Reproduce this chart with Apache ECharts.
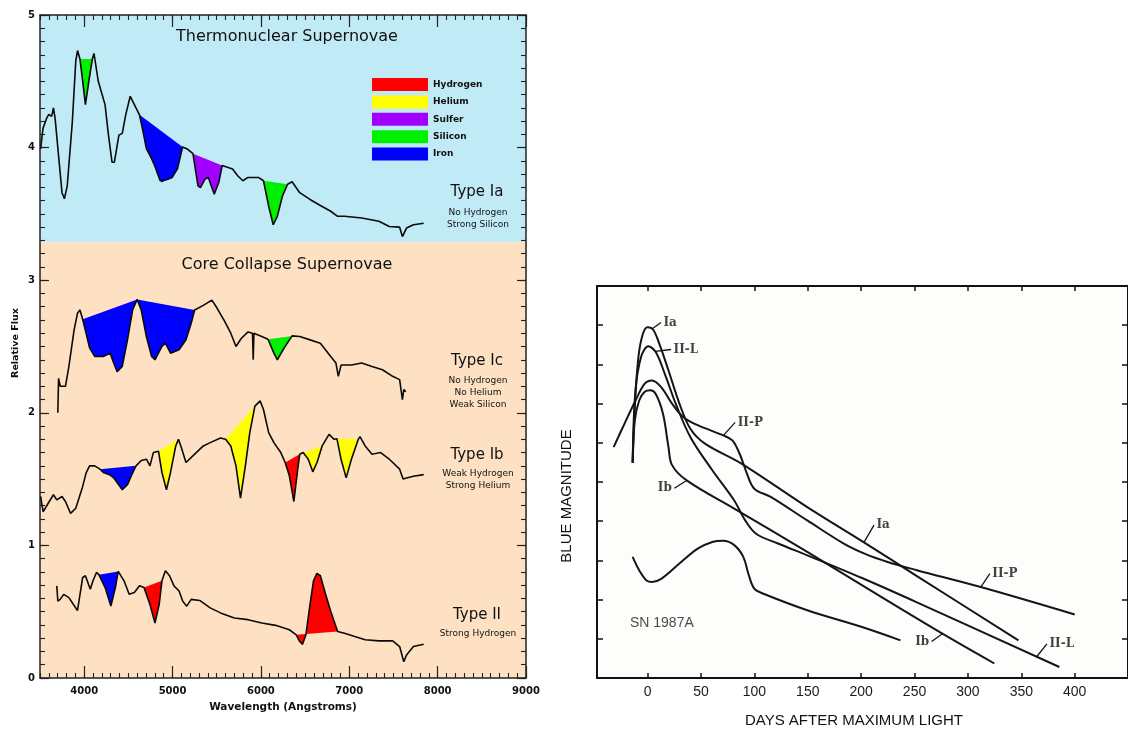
<!DOCTYPE html>
<html>
<head>
<meta charset="utf-8">
<script src="https://cdn.jsdelivr.net/npm/echarts@6/dist/echarts.min.js"></script>
<style>html,body{margin:0;padding:0;background:#fff}#c{width:1128px;height:730px}</style>
</head>
<body>
<div id="c"></div>
<script>
// ---------------- Left panel: spectra (wavelength in Angstroms, relative flux) ----------------
const wavelengthLabels = [4000, 5000, 6000, 7000, 8000, 9000];
const fluxLabels = [0, 1, 2, 3, 4, 5];
const elementNames = ['Hydrogen', 'Helium', 'Sulfer', 'Silicon', 'Iron'];
const elementColors = ['#ff0000', '#ffff00', '#a000ff', '#00f000', '#0000ff'];
const regionBoundary = 3.29; // thermonuclear / core-collapse divide (flux units)

const spectrumIa = [
[3507,3.99],[3534,4.145],[3574,4.22],[3600,4.25],[3632,4.235],[3652,4.30],[3671,4.22],[3710,3.94],[3749,3.66],[3776,3.614],[3808,3.71],[3866,4.196],[3905,4.655],[3925,4.732],[3952,4.668],[3983,4.502],[4014,4.324],[4053,4.502],[4092,4.668],[4111,4.71],[4159,4.502],[4197,4.413],[4236,4.324],[4275,4.094],[4315,3.89],[4342,3.89],[4393,4.094],[4431,4.107],[4470,4.247],[4521,4.387],[4568,4.324],[4626,4.247],[4666,4.12],[4704,3.992],[4763,3.916],[4800,3.86],[4860,3.75],[4880,3.737],[4940,3.76],[4996,3.775],[5055,3.839],[5114,4.005],[5172,3.987],[5231,3.954],[5288,3.711],[5316,3.699],[5367,3.762],[5405,3.775],[5472,3.648],[5523,3.737],[5562,3.865],[5621,3.852],[5679,3.839],[5737,3.788],[5796,3.75],[5854,3.775],[5971,3.775],[6029,3.75],[6088,3.558],[6139,3.418],[6186,3.482],[6244,3.635],[6302,3.724],[6353,3.742],[6439,3.66],[6556,3.609],[6673,3.563],[6790,3.52],[6868,3.482],[6946,3.482],[7141,3.469],[7335,3.444],[7453,3.405],[7570,3.40],[7601,3.329],[7648,3.393],[7726,3.418],[7842,3.43]
];
const spectrumIc = [
[3702,2.00],[3710,2.26],[3729,2.20],[3788,2.20],[3827,2.35],[3886,2.625],[3924,2.75],[3952,2.775],[3983,2.705],[4022,2.60],[4061,2.49],[4119,2.425],[4217,2.425],[4294,2.45],[4334,2.375],[4373,2.31],[4431,2.35],[4490,2.55],[4548,2.775],[4599,2.855],[4646,2.775],[4704,2.575],[4763,2.425],[4801,2.40],[4880,2.50],[4919,2.525],[4977,2.45],[5074,2.475],[5152,2.55],[5211,2.675],[5250,2.775],[5348,2.81],[5445,2.85],[5503,2.79],[5581,2.70],[5659,2.60],[5718,2.50],[5777,2.56],[5854,2.61],[5905,2.60],[5913,2.40],[5921,2.60],[6010,2.575],[6080,2.555],[6147,2.45],[6186,2.40],[6264,2.49],[6353,2.58],[6439,2.575],[6556,2.55],[6673,2.525],[6790,2.425],[6849,2.375],[6876,2.275],[6907,2.36],[7024,2.36],[7141,2.375],[7257,2.35],[7375,2.325],[7491,2.275],[7570,2.25],[7601,2.10],[7617,2.175],[7640,2.16]
];
const spectrumIb = [
[3507,1.369],[3535,1.254],[3593,1.318],[3652,1.382],[3690,1.343],[3749,1.369],[3788,1.331],[3846,1.242],[3905,1.28],[3983,1.445],[4022,1.547],[4041,1.55],[4061,1.60],[4119,1.60],[4178,1.575],[4217,1.55],[4294,1.53],[4334,1.51],[4431,1.42],[4490,1.458],[4548,1.547],[4587,1.60],[4646,1.64],[4704,1.65],[4744,1.60],[4783,1.70],[4841,1.71],[4880,1.55],[4931,1.42],[4977,1.55],[5036,1.75],[5067,1.80],[5094,1.75],[5152,1.625],[5230,1.675],[5348,1.75],[5426,1.775],[5543,1.81],[5600,1.80],[5659,1.75],[5718,1.60],[5769,1.356],[5824,1.60],[5874,1.85],[5932,2.05],[5991,2.09],[6029,2.025],[6088,1.85],[6147,1.775],[6225,1.70],[6275,1.625],[6322,1.525],[6373,1.331],[6412,1.55],[6439,1.6875],[6478,1.70],[6536,1.65],[6587,1.555],[6635,1.625],[6693,1.75],[6771,1.8375],[6829,1.80],[6860,1.805],[6907,1.65],[6965,1.509],[7024,1.65],[7102,1.80],[7121,1.82],[7180,1.75],[7257,1.6875],[7355,1.70],[7453,1.65],[7570,1.575],[7609,1.50],[7648,1.509],[7726,1.522],[7842,1.534]
];
const spectrumII = [
[3690,0.695],[3702,0.58],[3729,0.593],[3768,0.631],[3827,0.606],[3924,0.509],[3983,0.758],[4014,0.771],[4069,0.669],[4100,0.733],[4139,0.796],[4166,0.779],[4237,0.682],[4302,0.542],[4353,0.682],[4385,0.804],[4404,0.814],[4451,0.733],[4509,0.631],[4568,0.644],[4626,0.695],[4677,0.682],[4744,0.555],[4801,0.415],[4849,0.555],[4880,0.733],[4919,0.809],[4966,0.771],[5016,0.695],[5074,0.656],[5114,0.58],[5160,0.542],[5211,0.593],[5308,0.585],[5426,0.529],[5543,0.491],[5699,0.453],[5854,0.44],[6010,0.415],[6166,0.397],[6322,0.364],[6400,0.326],[6439,0.275],[6471,0.254],[6509,0.326],[6556,0.555],[6595,0.733],[6634,0.789],[6673,0.771],[6732,0.631],[6790,0.504],[6868,0.351],[6946,0.338],[7062,0.313],[7180,0.288],[7335,0.28],[7491,0.28],[7570,0.237],[7617,0.122],[7648,0.173],[7726,0.237],[7842,0.254]
];
// absorption / emission regions: [spectrum, element, from wavelength, to wavelength]
const fillsIa = [['Ia','Silicon',3952,4092],['Ia','Iron',4626,5114],['Ia','Sulfer',5231,5562],['Ia','Silicon',6029,6302]];
const fillsIc = [['Ic','Iron',3983,4599],['Ic','Iron',4599,5250],['Ic','Silicon',6080,6353]];
const fillsIb = [['Ib','Iron',4178,4587],['Ib','Helium',4841,5067],['Ib','Helium',5600,5932],['Ib','Hydrogen',6275,6439],['Ib','Helium',6439,6693],['Ib','Helium',6860,7102]];
const fillsII = [['II','Iron',4166,4385],['II','Hydrogen',4677,4880],['II','Hydrogen',6400,6868]];

// ---------------- Right panel: light curves (days after max, blue magnitude) ----------------
const dayLabels = [0, 50, 100, 150, 200, 250, 300, 350, 400];
const curveIa = [[-14,-15.49],[-12,-16.91],[-8.6,-18.19],[-4.4,-18.78],[0,-18.95],[5.1,-18.89],[10.9,-18.53],[19.5,-17.85],[29.8,-17.0],[40,-16.36],[53.7,-15.98],[87.9,-15.47],[149.5,-14.36],[202.6,-13.46],[252.2,-12.6],[347.3,-10.96]];
const curveIIL = [[-14,-15.49],[-11.5,-17.3],[-6,-18.2],[0.7,-18.46],[7.5,-18.32],[16.1,-17.76],[26.3,-17.0],[40,-16.15],[60.6,-15.3],[81.1,-14.53],[91.4,-14.02],[101.6,-13.68],[122.1,-13.43],[149.5,-13.13],[200.8,-12.55],[252.2,-11.93],[385.6,-10.28]];
const curveIIP = [[-31.8,-15.89],[-21.6,-16.49],[-11.3,-17.08],[-2.7,-17.51],[4.1,-17.59],[12.7,-17.42],[22.9,-17.0],[33.2,-16.66],[46.9,-16.45],[70.8,-16.19],[79.4,-16.06],[86.2,-15.72],[93.1,-15.21],[99.9,-14.83],[115.3,-14.62],[149.5,-14.02],[183.7,-13.43],[204.3,-13.16],[224.8,-12.96],[252.2,-12.75],[312,-12.32],[400,-11.62]];
const curveIb = [[-14,-15.49],[-12,-16.57],[-7.9,-17.08],[-2.7,-17.3],[2.4,-17.34],[7.5,-17.25],[14.4,-16.74],[19.5,-15.9],[22.9,-15.43],[36.6,-15.04],[81.1,-14.32],[149.5,-13.22],[218,-12.08],[276.1,-11.13],[324.7,-10.37]];
const curve87A = [[-14,-13.09],[-7.9,-12.75],[-1,-12.49],[4.1,-12.45],[12.7,-12.53],[29.8,-12.92],[46.9,-13.3],[60.6,-13.47],[70.8,-13.5],[81.1,-13.39],[89.6,-13.09],[94.8,-12.62],[99.9,-12.28],[108.5,-12.15],[149.5,-11.73],[200.8,-11.3],[236.8,-10.96]];
// curve labels: [text, leader start day, start mag, leader end day, end mag, side]
const curveLabels = [
  ['Ia', 5, -18.92, 12.5, -19.07, 'right'],
  ['II-L', 7.5, -18.33, 22, -18.38, 'right'],
  ['II-P', 71, -16.19, 82, -16.52, 'right'],
  ['Ib', 36.6, -15.04, 25, -14.84, 'left'],
  ['Ia', 202.6, -13.46, 212, -13.9, 'right'],
  ['II-P', 312, -12.32, 320.5, -12.66, 'right'],
  ['II-L', 364, -10.53, 374, -10.87, 'right'],
  ['Ib', 276.1, -11.13, 266, -10.93, 'left']
];
const sn1987ALabel = ['SN 1987A', -17, -11.39];

const spectra = { Ia: spectrumIa, Ic: spectrumIc, Ib: spectrumIb, II: spectrumII };
const allFills = [].concat(fillsIa, fillsIc, fillsIb, fillsII);

function fillSeries(name, color) {
  const regions = allFills.filter(r => r[1] === name);
  return {
    type: 'custom', name: name, xAxisIndex: 0, yAxisIndex: 0, z: 2,
    itemStyle: { color: color }, silent: true,
    data: regions.map(r => [r[2], 1]),
    renderItem: function (params, api) {
      const r = regions[params.dataIndex];
      const pts = spectra[r[0]].filter(p => p[0] >= r[2] && p[0] <= r[3]).map(p => api.coord(p));
      return { type: 'polygon', shape: { points: pts }, style: { fill: color, stroke: null } };
    }
  };
}
function specSeries(data) {
  return { type: 'line', xAxisIndex: 0, yAxisIndex: 0, data: data, showSymbol: false, z: 3, silent: true,
    lineStyle: { color: '#0a0a0a', width: 1.6 } };
}
function curveSeries(data) {
  return { type: 'line', xAxisIndex: 4, yAxisIndex: 4, data: data, showSymbol: false, smooth: 0.35, z: 3, silent: true,
    lineStyle: { color: '#151515', width: 2 } };
}
const plain = v => String(v);

const tickColor = '#222';
const leftFont = 'DejaVu Sans';
function leftX(pos, long, labels) {
  const ax = { gridIndex: 0, type: 'value', min: 3500, max: 9000, position: pos,
    splitLine: { show: false }, axisLine: { show: !long, onZero: false, lineStyle: { color: tickColor, width: 1.5 } } };
  if (long) {
    ax.axisTick = { show: true, inside: true, length: 12, customValues: wavelengthLabels, lineStyle: { color: tickColor, width: 1.2 } };
    ax.axisLabel = { show: false };
  } else {
    ax.interval = 100;
    ax.axisTick = { show: true, inside: true, length: 5, lineStyle: { color: tickColor, width: 1.1 } };
    ax.axisLabel = labels ? { show: true, customValues: wavelengthLabels, formatter: plain, margin: 8, color: '#111', fontSize: 10, fontWeight: 'bold', fontFamily: leftFont } : { show: false };
  }
  return ax;
}
function leftY(pos, long, labels) {
  const ax = { gridIndex: 0, type: 'value', min: 0, max: 5, position: pos,
    splitLine: { show: false }, axisLine: { show: !long, onZero: false, lineStyle: { color: tickColor, width: 1.5 } } };
  if (long) {
    ax.interval = 1;
    ax.axisTick = { show: true, inside: true, length: 9, lineStyle: { color: tickColor, width: 1.2 } };
    ax.axisLabel = { show: false };
  } else {
    ax.interval = 0.1;
    ax.axisTick = { show: true, inside: true, length: 5, lineStyle: { color: tickColor, width: 1.1 } };
    ax.axisLabel = labels ? { show: true, customValues: fluxLabels, formatter: plain, margin: 5, color: '#111', fontSize: 10, fontWeight: 'bold', fontFamily: leftFont } : { show: false };
  }
  return ax;
}
function rightX(pos, labels) {
  return { gridIndex: 1, type: 'value', min: -47.4, max: 449.9, position: pos,
    splitLine: { show: false }, axisLine: { show: true, onZero: false, lineStyle: { color: '#111', width: 2 } },
    axisTick: { show: true, inside: true, length: 5, customValues: dayLabels, lineStyle: { color: '#111', width: 1.5 } },
    axisLabel: labels ? { show: true, customValues: dayLabels, formatter: plain, margin: 7, color: '#1a1a1a', fontSize: 14, fontFamily: 'Liberation Sans' } : { show: false } };
}
function rightY(pos) {
  return { gridIndex: 1, type: 'value', inverse: true, min: -20, max: -10, interval: 1, position: pos,
    splitLine: { show: false }, axisLine: { show: true, onZero: false, lineStyle: { color: '#111', width: 2 } },
    axisTick: { show: true, inside: true, length: 6, lineStyle: { color: '#111', width: 1.5 } },
    axisLabel: { show: false } };
}

const chart = echarts.init(document.getElementById('c'), null, { renderer: 'canvas' });
const series = [
  { type: 'line', xAxisIndex: 0, yAxisIndex: 0, data: [[3500, 0]], showSymbol: false, z: 0, silent: true,
    lineStyle: { opacity: 0 },
    markArea: { silent: true, z: 0, data: [
      [{ yAxis: 0, itemStyle: { color: '#fde1c2' } }, { yAxis: regionBoundary }],
      [{ yAxis: regionBoundary, itemStyle: { color: '#c1eaf7' } }, { yAxis: 5 }]
    ] } }
];
elementNames.forEach((n, i) => series.push(fillSeries(n, elementColors[i])));
series.push(specSeries(spectrumIa), specSeries(spectrumIc), specSeries(spectrumIb), specSeries(spectrumII));
[curveIa, curveIIL, curveIIP, curveIb, curve87A].forEach(c => series.push(curveSeries(c)));
series.push({ type: 'line', xAxisIndex: 4, yAxisIndex: 4, data: [[0, -15]], showSymbol: false, silent: true,
  lineStyle: { opacity: 0 },
  markLine: { silent: true, symbol: ['none', 'none'], label: { show: false },
    lineStyle: { color: '#151515', width: 1.3, type: 'solid' },
    data: curveLabels.map(l => [{ coord: [l[1], l[2]] }, { coord: [l[3], l[4]] }]) } });
series.push({ type: 'scatter', xAxisIndex: 4, yAxisIndex: 4, symbolSize: 1, silent: true,
  itemStyle: { color: 'rgba(0,0,0,0)' },
  data: curveLabels.map(l => ({ value: [l[3], l[4]], name: l[0], label: { position: l[5] } })),
  label: { show: true, distance: 2, formatter: p => p.name, color: '#111', fontSize: 12, fontWeight: 'bold', fontFamily: 'DejaVu Serif' } });
series.push({ type: 'scatter', xAxisIndex: 4, yAxisIndex: 4, symbolSize: 1, silent: true,
  itemStyle: { color: 'rgba(0,0,0,0)' },
  data: [{ value: [sn1987ALabel[1], sn1987ALabel[2]], name: sn1987ALabel[0] }],
  label: { show: true, position: 'right', distance: 0, formatter: p => p.name, color: '#1a1a1a', fontSize: 14, fontFamily: 'Liberation Sans' } });

function txt(text, x, y, size, weight, family, rot) {
  return { type: 'text', x: x, y: y, rotation: rot || 0, silent: true, z: 10,
    style: { text: text, fill: '#111', font: (weight || 'normal') + ' ' + size + 'px "' + (family || leftFont) + '"',
      textAlign: 'center', textVerticalAlign: 'middle', align: 'center', verticalAlign: 'middle' } };
}

chart.setOption({
  backgroundColor: '#ffffff',
  animation: false,
  grid: [
    { left: 40, top: 15, width: 486, height: 663, show: false },
    { left: 597, top: 286, width: 535, height: 392, show: true, backgroundColor: '#fdfdfb', borderWidth: 0 }
  ],
  xAxis: [leftX('bottom', false, true), leftX('bottom', true), leftX('top', false, false), leftX('top', true),
          rightX('bottom', true), rightX('top', false)],
  yAxis: [leftY('left', false, true), leftY('left', true), leftY('right', false, false), leftY('right', true),
          rightY('left'), rightY('right')],
  legend: { data: elementNames, orient: 'vertical', left: 367, top: 73, itemWidth: 56, itemHeight: 13, itemGap: 4.4,
    icon: 'rect', selectedMode: false, itemStyle: { borderWidth: 0 },
    textStyle: { fontSize: 9, fontWeight: 'bold', color: '#111', fontFamily: leftFont, padding: [0, 0, 0, 0] } },
  graphic: [
    txt('Thermonuclear Supernovae', 287, 37, 16),
    txt('Core Collapse Supernovae', 287, 265, 16),
    txt('Type Ia', 477, 192, 15),
    txt('No Hydrogen', 478, 213, 9),
    txt('Strong Silicon', 478, 225, 9),
    txt('Type Ic', 477, 361, 15),
    txt('No Hydrogen', 478, 381, 9),
    txt('No Helium', 478, 393, 9),
    txt('Weak Silicon', 478, 405, 9),
    txt('Type Ib', 477, 455, 15),
    txt('Weak Hydrogen', 478, 474, 9),
    txt('Strong Helium', 478, 486, 9),
    txt('Type II', 477, 615, 15),
    txt('Strong Hydrogen', 478, 634, 9),
    txt('Relative Flux', 16, 343, 9.5, 'bold', leftFont, Math.PI / 2),
    txt('Wavelength (Angstroms)', 283, 707, 10.5, 'bold'),
    txt('DAYS AFTER MAXIMUM LIGHT', 854, 721, 15, 'normal', 'Liberation Sans'),
    txt('BLUE MAGNITUDE', 567, 496, 15, 'normal', 'Liberation Sans', Math.PI / 2)
  ],
  series: series
});
</script>
</body>
</html>
